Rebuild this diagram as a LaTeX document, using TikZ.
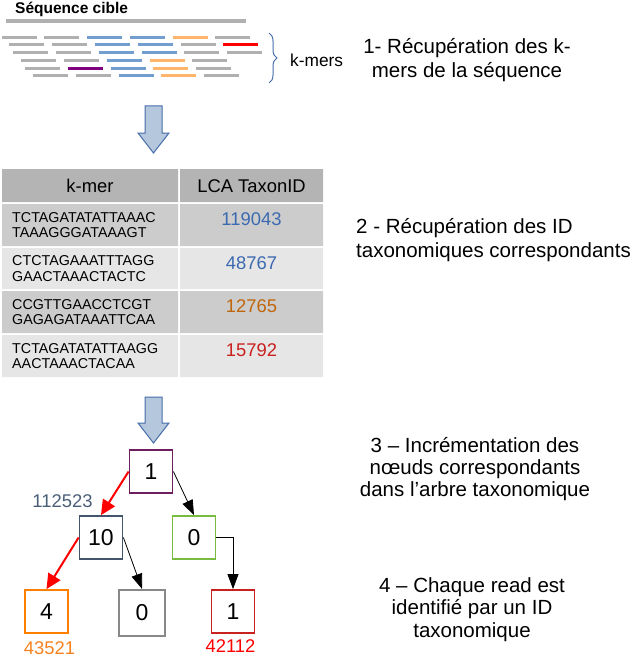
\documentclass[tikz,border=0pt]{standalone}
\usepackage{fontspec}
\setmainfont{Liberation Sans}
\usetikzlibrary{arrows.meta,decorations.pathreplacing}

% colours of the k-mers
\definecolor{kgray}{RGB}{176,176,176}
\definecolor{kblue}{RGB}{114,159,207}
\definecolor{korange}{RGB}{255,182,108}
\definecolor{kred}{RGB}{255,0,0}
\definecolor{kpurple}{RGB}{128,0,128}
% colours of the table
\definecolor{hdrgray}{RGB}{180,180,180}
\definecolor{rowdark}{RGB}{204,204,204}
\definecolor{rowlight}{RGB}{230,230,230}
\definecolor{idblue}{RGB}{60,106,176}
\definecolor{idbrown}{RGB}{192,102,12}
\definecolor{idred}{RGB}{201,33,30}
% colours of the tree
\definecolor{arrowfill}{RGB}{180,199,220}
\definecolor{arrowline}{RGB}{70,110,170}
\definecolor{boxpurple}{RGB}{110,30,95}
\definecolor{boxslate}{RGB}{68,84,106}
\definecolor{boxgreen}{RGB}{119,188,63}
\definecolor{boxorange}{RGB}{255,128,0}
\definecolor{boxgray}{RGB}{136,136,136}
\definecolor{boxred}{RGB}{201,33,30}
\definecolor{lblslate}{RGB}{74,94,120}
\definecolor{lblorange}{RGB}{245,130,30}

\begin{document}
\begin{tikzpicture}[x=1pt,y=-1pt,
    kmer/.style={line width=3pt},
    steptext/.style={inner sep=0pt, align=center, font=\fontsize{20.5}{24}\selectfont},
    seq/.style={inner sep=0pt, align=left, anchor=west, font=\fontsize{14.3}{15.5}\selectfont},
    idnum/.style={inner sep=0pt, font=\fontsize{18.4}{20}\selectfont},
    tnode/.style={draw, line width=1.8pt, minimum size=43pt, inner sep=0pt, font=\fontsize{23}{26}\selectfont},
    blockarrow/.style={fill=arrowfill, draw=arrowline, line width=1pt, line join=miter},
    redlink/.style={draw=red, line width=2pt, -{Triangle[length=15pt,width=14pt]}},
    blacklink/.style={draw=black, line width=0.8pt, -{Triangle[length=15pt,width=11pt]}}]
  \useasboundingbox (0,0) rectangle (633,658);

  % Target sequence
  \node[inner sep=0pt, anchor=base west, font=\fontsize{15.5}{18}\selectfont\bfseries] (seqtitle) at (15,14) {Séquence cible};
  \draw[kgray, line width=3.3pt] (6,21) -- (246,21);

  % k-mers
  \draw[kmer, kgray] (2,37.5) -- +(35,0) (44,37.5) -- +(35,0) (215,37.5) -- +(35,0);
  \draw[kmer, kblue] (87,37.5) -- +(35,0) (130,37.5) -- +(35,0);
  \draw[kmer, korange] (173,37.5) -- +(35,0);

  \draw[kmer, kgray] (9,44.5) -- +(35,0) (52,44.5) -- +(35,0) (181,44.5) -- +(35,0);
  \draw[kmer, kblue] (95,44.5) -- +(35,0) (138,44.5) -- +(35,0);
  \draw[kmer, kred] (223,44.5) -- +(35,0);

  \draw[kmer, kgray] (13,52.5) -- +(35,0) (56,52.5) -- +(35,0) (184,52.5) -- +(35,0) (227,52.5) -- +(35,0);
  \draw[kmer, kblue] (99,52.5) -- +(35,0) (142,52.5) -- +(35,0);

  \draw[kmer, kgray] (21,60.5) -- +(35,0) (64,60.5) -- +(35,0) (192,60.5) -- +(35,0);
  \draw[kmer, kblue] (107,60.5) -- +(35,0);
  \draw[kmer, korange] (150,60.5) -- +(35,0);

  \draw[kmer, kgray] (25,68.5) -- +(35,0) (196,68.5) -- +(35,0);
  \draw[kmer, kpurple] (68,68.5) -- +(35,0);
  \draw[kmer, kblue] (111,68.5) -- +(35,0);
  \draw[kmer, korange] (153,68.5) -- +(35,0);

  \draw[kmer, kgray] (33,75.5) -- +(35,0) (76,75.5) -- +(35,0) (204,75.5) -- +(35,0);
  \draw[kmer, kblue] (119,75.5) -- +(35,0);
  \draw[kmer, korange] (161,75.5) -- +(35,0);

  % brace and its label
  \coordinate (bracetop) at (269,33);
  \coordinate (bracebot) at (269,83);
  \draw[arrowline, line width=1pt, decorate, decoration={brace, amplitude=8pt}] (bracetop) -- (bracebot);
  \node[inner sep=0pt, anchor=west, font=\fontsize{17.3}{20}\selectfont] (kmers) at (290,60) {k-mers};

  % first arrow
  \draw[blockarrow] (145,106) -- (162,106) -- (162,133) -- (169,133) -- (153.5,153)
    -- (138,133) -- (145,133) -- cycle;

  % Table
  \fill[hdrgray] (2,169) rectangle (178,202) (180,169) rectangle (323,202);
  \fill[rowdark] (2,204) rectangle (178,246) (180,204) rectangle (323,246);
  \fill[rowlight] (2,248) rectangle (178,289) (180,248) rectangle (323,289);
  \fill[rowdark] (2,291) rectangle (178,333) (180,291) rectangle (323,333);
  \fill[rowlight] (2,335) rectangle (178,377) (180,335) rectangle (323,377);

  \node[idnum] (hkmer) at (90,186) {k-mer};
  \node[idnum] (htaxon) at (251.5,186) {LCA TaxonID};

  \node[seq] (s1) at (12,225) {TCTAGATATATTAAAC\\TAAAGGGATAAAGT};
  \node[seq] (s2) at (12,268.5) {CTCTAGAAATTTAGG\\GAACTAAACTACTC};
  \node[seq] (s3) at (12,312) {CCGTTGAACCTCGT\\GAGAGATAAATTCAA};
  \node[seq] (s4) at (12,356) {TCTAGATATATTAAGG\\AACTAAACTACAA};

  \node[idnum, idblue] (t1) at (251.5,219.5) {119043};
  \node[idnum, idblue] (t2) at (251.5,263) {48767};
  \node[idnum, idbrown] (t3) at (251.5,306.5) {12765};
  \node[idnum, idred] (t4) at (251.5,350.5) {15792};

  % second arrow
  \draw[blockarrow] (145,397) -- (162,397) -- (162,423) -- (169,423) -- (153.5,443)
    -- (138,423) -- (145,423) -- cycle;

  % Taxonomic tree
  \node[tnode, boxpurple] (root) at (151,471.5) {\textcolor{black}{1}};
  \node[tnode, boxslate] (n10) at (101,537.5) {\textcolor{black}{10}};
  \node[tnode, boxgreen] (nright) at (194,537.5) {\textcolor{black}{0}};
  \node[tnode, boxorange] (nleaf) at (46.5,611.5) {\textcolor{black}{4}};
  \node[tnode, boxgray, line width=2.2pt, minimum size=46pt] (nmid) at (142,613) {\textcolor{black}{0}};
  \node[tnode, boxred] (nread) at (233,611.5) {\textcolor{black}{1}};

  \draw[redlink] (root.west) -- (n10.north);
  \draw[blacklink] (root.east) -- (nright.north);
  \draw[redlink] (n10.west) -- (nleaf.north);
  \draw[blacklink] (n10.east) -- (nmid.north);
  \draw[blacklink] (nright.east) -| (nread.north);

  \node[idnum, lblslate] (l10) at (62.5,501) {112523};
  \node[idnum, lblorange] (lleaf) at (49.5,648) {43521};
  \node[idnum, red] (lread) at (230.5,646.5) {42112};

  % Steps
  \node[steptext] (step1) at (467,60) {1- Récupération des k-\\mers de la séquence};
  \node[steptext, align=left, anchor=west] (step2) at (356,240) {2 - Récupération des ID\\taxonomiques correspondants};
  \node[steptext, font=\fontsize{20.5}{22}\selectfont] (step3) at (475,469.5) {3 – Incrémentation des\\nœuds correspondants\\dans l’arbre taxonomique};
  \node[steptext, font=\fontsize{20.5}{22.5}\selectfont] (step4) at (472,609.5) {4 – Chaque read est\\identifié par un ID\\taxonomique};
\end{tikzpicture}
\end{document}
